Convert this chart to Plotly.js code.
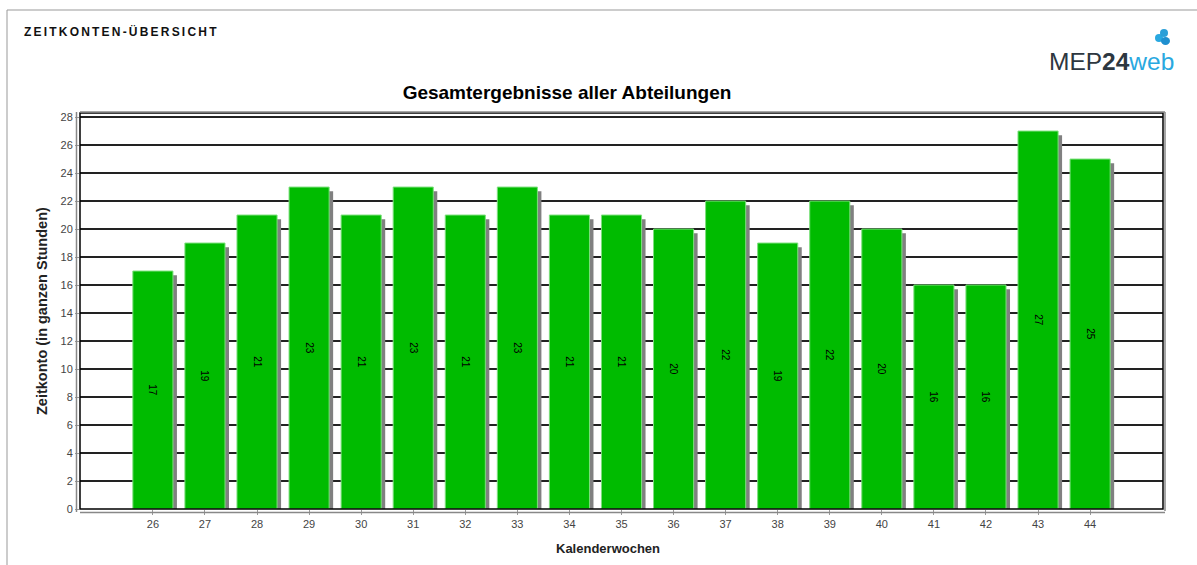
<!DOCTYPE html>
<html>
<head>
<meta charset="utf-8">
<script src="https://cdn.plot.ly/plotly-3.0.1.min.js"></script>
<style>
html,body{margin:0;padding:0;background:#fff;}
#chart{width:1197px;height:565px;}
</style>
</head>
<body>
<div id="chart"></div>
<script>
// ---- data ----
const weeks = ["26","27","28","29","30","31","32","33","34","35","36","37","38","39","40","41","42","43","44"];
const hours = [17,19,21,23,21,23,21,23,21,21,20,22,19,22,20,16,16,27,25];
const yTicks = [0,2,4,6,8,10,12,14,16,18,20,22,24,26,28];

const chartTitle = "Gesamtergebnisse aller Abteilungen";
const pageTitle = "ZEITKONTEN-ÜBERSICHT";
const xTitle = "Kalenderwochen";
const yTitle = "Zeitkonto (in ganzen Stunden)";

// ---- layout helpers (pixel -> paper) ----
const L = 80, R = 1163, T = 113, B = 509;
const W = R - L, H = B - T;
const px = x => (x - L) / W;
const py = y => (B - y) / H;

const barW = 0.77;
const shadowDx = 4 / 52.06;   // 4px in category units
const shadowDy = 0.3;          // ~4px in y units

const FONT = 'Liberation Sans, Arial, sans-serif';

const shadow = {
  type: 'bar', x: weeks, y: hours.map(v => v - shadowDy),
  width: barW, offset: -barW/2 + shadowDx,
  marker: {color: '#808080', line: {width: 0}},
  hoverinfo: 'skip', showlegend: false
};
const bars = {
  type: 'bar', x: weeks, y: hours,
  width: barW, offset: -barW/2,
  marker: {color: '#00bb00', line: {color: '#7de07d', width: 1}},
  texttemplate: '%{y}', textposition: 'inside', insidetextanchor: 'middle',
  textangle: 90, constraintext: 'none',
  insidetextfont: {family: FONT, size: 10, color: '#000'},
  showlegend: false
};

const shapes = [
  // outer page frame
  {type:'line', xref:'paper', yref:'paper', x0:px(7), x1:px(1200), y0:py(10), y1:py(10), line:{color:'#999', width:1}},
  {type:'line', xref:'paper', yref:'paper', x0:px(7), x1:px(7), y0:py(10), y1:py(570), line:{color:'#999', width:1}},
  // plot frame (black)
  {type:'rect', xref:'paper', yref:'paper', x0:0, x1:1, y0:0, y1:1, line:{color:'#000', width:1.5}, layer:'above'},
  // gray offset lines
  {type:'line', xref:'paper', yref:'paper', x0:px(76.5), x1:px(76.5), y0:py(512), y1:py(112), line:{color:'#888', width:1.5}},
  {type:'line', xref:'paper', yref:'paper', x0:px(80), x1:px(1165), y0:py(112), y1:py(112), line:{color:'#888', width:1.5}},
  {type:'line', xref:'paper', yref:'paper', x0:px(1165), x1:px(1165), y0:py(112), y1:py(511), line:{color:'#888', width:1.5}},
  {type:'line', xref:'paper', yref:'paper', x0:px(80), x1:px(1165), y0:py(512.5), y1:py(512.5), line:{color:'#888', width:1.5}},
  // logo icon
  {type:'circle', xref:'paper', yref:'paper', x0:px(1155), x1:px(1163), y0:py(42), y1:py(34), fillcolor:'#29a8e0', line:{width:0}},
  {type:'circle', xref:'paper', yref:'paper', x0:px(1160), x1:px(1168), y0:py(37), y1:py(29), fillcolor:'#2b9fd8', line:{width:0}},
  {type:'circle', xref:'paper', yref:'paper', x0:px(1161), x1:px(1170), y0:py(45), y1:py(37), fillcolor:'#1f8fcf', line:{width:0}}
];

const annotations = [
  {text: '<b>' + pageTitle + '</b>', xref:'paper', yref:'paper', x:px(121), y:py(31),
   xanchor:'center', yanchor:'middle', showarrow:false,
   font:{family:FONT, size:12, color:'#111'}},
  {text: '<span style="color:#2d3740">MEP</span><b><span style="color:#2d3740">24</span></b><span style="color:#29a8e0">web</span>',
   xref:'paper', yref:'paper', x:px(1176), y:py(61), xanchor:'right', yanchor:'middle', showarrow:false,
   font:{family:FONT, size:24.5}},
  {text: '<b>' + xTitle + '</b>', xref:'paper', yref:'paper', x:px(608), y:py(548),
   xanchor:'center', yanchor:'middle', showarrow:false,
   font:{family:FONT, size:13, color:'#222'}},
  {text: '<b>' + yTitle + '</b>', xref:'paper', yref:'paper', x:px(42), y:py(311),
   xanchor:'center', yanchor:'middle', textangle:-90, showarrow:false,
   font:{family:FONT, size:14.5, color:'#222'}}
];

const layout = {
  width: 1197, height: 565,
  margin: {l: L, r: 1197 - R, t: T, b: 565 - B, pad: 0},
  paper_bgcolor: '#fff', plot_bgcolor: '#fff',
  barmode: 'overlay',
  title: {text: '<b>' + chartTitle + '</b>', xref:'container', yref:'container',
          x: 567/1197, xanchor:'center', y: 1 - 92/565, yanchor:'middle',
          font:{family:FONT, size:19, color:'#000'}},
  xaxis: {
    type: 'category', range: [-1.4, 19.4],
    showgrid: false, zeroline: false, showline: false,
    ticks: 'outside', ticklen: 5, tickcolor: '#999', tickwidth: 1,
    tickfont: {family:FONT, size:11, color:'#444'}
  },
  yaxis: {
    range: [0, 28.29], tickvals: yTicks, ticktext: yTicks.map(String),
    showgrid: true, gridcolor: '#222', gridwidth: 1.5,
    zeroline: false, showline: false,
    ticks: 'outside', ticklen: 4, tickcolor: '#999', tickwidth: 1,
    tickfont: {family:FONT, size:11, color:'#444'}
  },
  shapes: shapes,
  annotations: annotations,
  font: {family: FONT}
};

Plotly.newPlot('chart', [shadow, bars], layout, {displayModeBar: false, staticPlot: true}).then(gd => {
  const t = gd.querySelectorAll('.annotation-text')[0];
  if (t) t.style.letterSpacing = '2.2px';
});
</script>
</body>
</html>
